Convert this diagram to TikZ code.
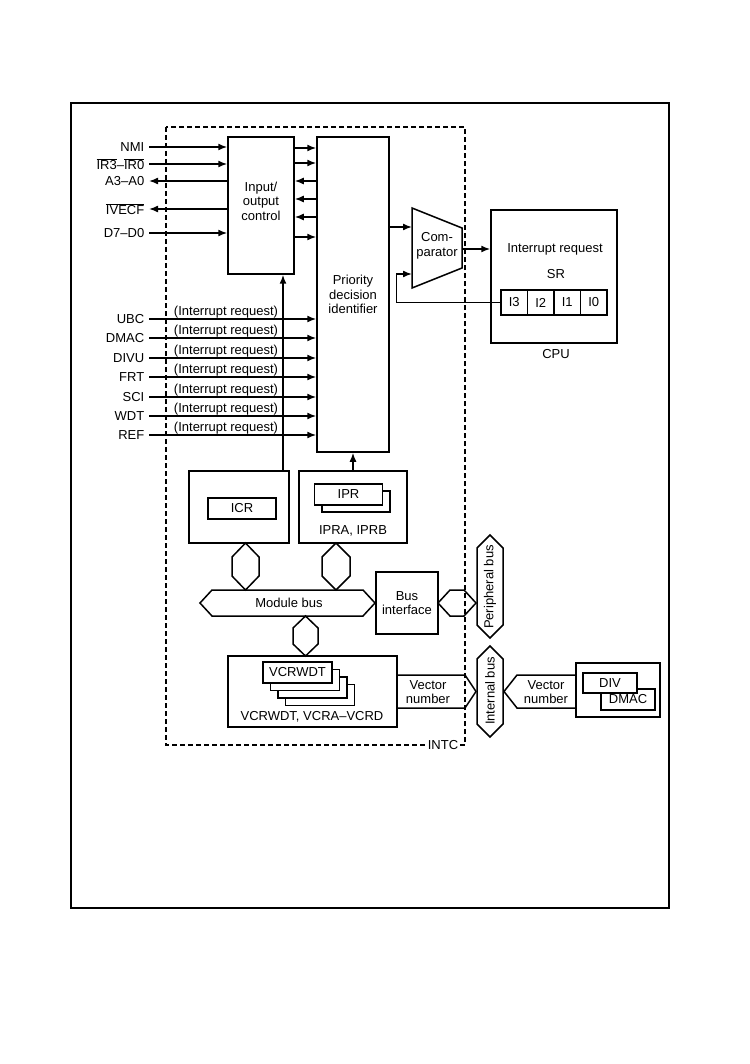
\documentclass[tikz,border=0pt]{standalone}
\usepackage{fontspec}
\setmainfont{Liberation Sans}
\usetikzlibrary{arrows.meta}
\newcommand{\myvhex}[5]{% cx, top, bottom, halfwidth, depth
  \draw (#1,#2) -- (#1+#4,#2+#5) -- (#1+#4,#3-#5) -- (#1,#3) -- (#1-#4,#3-#5) -- (#1-#4,#2+#5) -- cycle;}
\newcommand{\myhhex}[5]{% left, right, cy, halfheight, depth
  \draw (#1,#3) -- (#1+#5,#3-#4) -- (#2-#5,#3-#4) -- (#2,#3) -- (#2-#5,#3+#4) -- (#1+#5,#3+#4) -- cycle;}
\begin{document}
\begin{tikzpicture}[x=1pt,y=-1pt,line width=1.5pt,
  every node/.style={font=\fontsize{13}{14.5}\selectfont,align=center,inner sep=0pt},
  box/.style n args={2}{draw,minimum width=#1,minimum height=#2},
  arr/.style={-{Latex[length=9pt,width=7pt]}}]
\useasboundingbox (0,0) rectangle (749,1064);
\draw[line width=1.6pt] (71,103) rectangle (669,908);
\draw[line width=1.3pt,dashed,dash pattern=on 5pt off 3pt] (166,127) rectangle (465,745);
\node[fill=white,inner xsep=2pt,inner ysep=1pt] (intc) at (443,745) {INTC};

% I/O control and priority
\node[box={66}{137}] (io) at (261,205.5) {};
\node (iotxt) at (261,201) {Input/\\output\\control};
\node[box={72}{315}] (pri) at (353,294.5) {Priority\\decision\\identifier};

% left signals
\node[anchor=east] (nmi) at (145,147) {NMI};
\node[anchor=east] (ir) at (145,164) {$\overline{\hbox{IR3}}$–$\overline{\hbox{IR0}}$};
\node[anchor=east] (a30) at (145,181) {A3–A0};
\node[anchor=east] (ivecf) at (145,209) {$\overline{\hbox{IVECF}}$};
\node[anchor=east] (d70) at (145,233) {D7–D0};
\draw[arr] ([xshift=4pt]nmi.east) -- (io.west |- nmi.east);
\draw[arr] ([xshift=4pt]ir.east |- 0,164) -- (io.west |- 0,164);
\draw[arr] (io.west |- a30.east) -- ([xshift=4pt]a30.east);
\draw[arr] (io.west |- 0,209) -- ([xshift=4pt]ivecf.east |- 0,209);
\draw[arr] ([xshift=4pt]d70.east) -- (io.west |- d70.east);

% io <-> priority
\draw[arr] (io.east |- 0,148) -- (pri.west |- 0,148);
\draw[arr] (io.east |- 0,163) -- (pri.west |- 0,163);
\draw[arr] (pri.west |- 0,181) -- (io.east |- 0,181);
\draw[arr] (pri.west |- 0,199) -- (io.east |- 0,199);
\draw[arr] (pri.west |- 0,217) -- (io.east |- 0,217);
\draw[arr] (io.east |- 0,237) -- (pri.west |- 0,237);

% interrupt sources
\foreach \n/\y in {UBC/319,DMAC/338,DIVU/358,FRT/377,SCI/397,WDT/416,REF/435}{
  \node[anchor=east] (s\n) at (145,\y) {\n};
  \node[anchor=base] (r\n) at (226,\y-4) {(Interrupt request)};
  \draw[arr] ([xshift=4pt]s\n.east) -- (pri.west |- s\n.east);
}

% comparator
\coordinate (c1) at (412,208);
\coordinate (c2) at (462,228);
\coordinate (c3) at (462,268);
\coordinate (c4) at (412,288);
\draw (c1) -- (c2) -- (c3) -- (c4) -- cycle;
\node (cmp) at (437,246) {Com-\\parator};

% CPU
\node[box={126}{133}] (cpu) at (554,276.5) {};
\node (irq) at (555,249) {Interrupt request};
\node (sr) at (556,274) {SR};
\node[box={26.5}{25}] (sr3) at (514.25,302.5) {I3};
\node[box={26.5}{25}] (sr2) at (540.75,302.5) {I2};
\node[box={26.5}{25}] (sr1) at (567.25,302.5) {I1};
\node[box={26.5}{25}] (sr0) at (593.75,302.5) {I0};
\node (cpulbl) at (556,354) {CPU};

\draw[arr] (pri.east |- 0,227) -- (c1 |- 0,227);
\draw[arr] (c2 |- 0,249) -- (cpu.west |- 0,249);
\draw[arr] (sr3.west) -- ++(-104,0) |- (c1 |- 0,274);

% ICR / IPR
\node[box={100}{72}] (icrbox) at (239,507) {};
\node[box={68}{21}] (icr) at (242,508.5) {ICR};
\node[box={108}{72}] (iprbox) at (353,507) {};
\node[box={68}{21},fill=white] (iprb) at (356,501.5) {};
\node[box={68}{21},fill=white] (ipr) at (348.5,494.5) {IPR};
\node (iprlbl) at (353,531) {IPRA, IPRB};
\draw[arr] ([xshift=44pt]icrbox.north) -- ([xshift=44pt]icrbox.north |- io.south);
\draw[arr] (iprbox.north) -- (iprbox.north |- pri.south);

% buses
\myvhex{245.5}{543}{590}{13.5}{14}
\myvhex{336}{543}{590}{14}{14}
\myhhex{200}{375}{603}{13}{12}
\node (mbus) at (289,603) {Module bus};
\node[box={62}{62}] (busif) at (407,603) {Bus\\interface};
\myhhex{438}{476}{603}{13}{12}
\myvhex{490}{535}{638}{13}{13}
\node[rotate=90] (pbus) at (490,587) {Peripheral bus};
\myvhex{490}{646}{737}{13}{13}
\node[rotate=90] (ibus) at (490,691) {Internal bus};
\myvhex{305.5}{616}{656}{12.5}{12}

% VCR
\node[box={169}{71}] (vcr) at (312.5,691.5) {};
\node[box={69}{21},fill=white] (v3) at (320,695) {};
\node[box={69}{21},fill=white] (v2) at (312.5,687.5) {};
\node[box={69}{21},fill=white] (v1) at (305,680) {};
\node[box={69}{21},fill=white] (v0) at (297.5,672.5) {VCRWDT};
\node (vcrlbl) at (312,717) {VCRWDT, VCRA–VCRD};
\draw (vcr.east |- 0,675) -- (465,675) -- (476,691.5) -- (465,708) -- (vcr.east |- 0,708);
\node (vn1) at (428,692) {Vector\\number};

% DIV / DMAC
\node[box={84}{54}] (divbox) at (618,690) {};
\node[box={54}{21},fill=white] (dmac) at (628,699.5) {DMAC};
\node[box={54}{20},fill=white] (div) at (610,683) {DIV};
\draw (divbox.west |- 0,675) -- (517,675) -- (504,691.5) -- (517,708) -- (divbox.west |- 0,708);
\node (vn2) at (546,692) {Vector\\number};
\end{tikzpicture}
\end{document}
